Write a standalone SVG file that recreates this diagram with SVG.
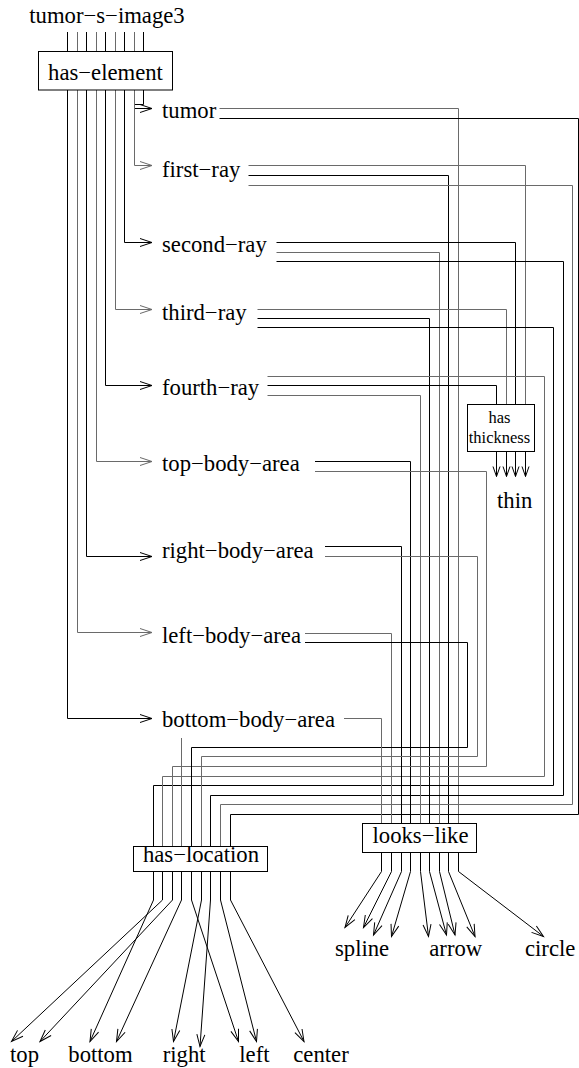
<svg xmlns="http://www.w3.org/2000/svg" width="579" height="1068" viewBox="0 0 579 1068">
<style>
.k{stroke:#000;fill:none;stroke-width:1}
.g{stroke:#6a6a6a;fill:none;stroke-width:1}
.t{font-family:"Liberation Serif","Times New Roman",serif;font-size:22.7px;fill:#000}
.s{font-size:16.5px}
.box{fill:#fff;stroke:#000;stroke-width:1}
</style>
<defs>
<marker id="aK" markerUnits="userSpaceOnUse" orient="auto" refX="0" refY="0" markerWidth="14" markerHeight="10" style="overflow:visible"><path d="M-12,-4 L0,0 L-12,4" fill="none" stroke="#000"/></marker>
<marker id="aG" markerUnits="userSpaceOnUse" orient="auto" refX="0" refY="0" markerWidth="14" markerHeight="10" style="overflow:visible"><path d="M-12,-4 L0,0 L-12,4" fill="none" stroke="#6a6a6a"/></marker>
<marker id="aS" markerUnits="userSpaceOnUse" orient="auto" refX="0" refY="0" markerWidth="12" markerHeight="8" style="overflow:visible"><path d="M-10,-3.5 L0,0 L-10,3.5" fill="none" stroke="#000"/></marker>
</defs>
<g id="connectors">
<path class="k" marker-end="url(#aK)" d="M143.5,32 V104.5 H134.5 V108.5 H152"/>
<path class="g" marker-end="url(#aG)" d="M134.5,32 V165.5 H152"/>
<path class="k" marker-end="url(#aK)" d="M124.5,32 V242.5 H152"/>
<path class="g" marker-end="url(#aG)" d="M115.5,32 V309.5 H152"/>
<path class="k" marker-end="url(#aK)" d="M105.5,32 V385.5 H152"/>
<path class="g" marker-end="url(#aG)" d="M96.5,32 V461.5 H152"/>
<path class="k" marker-end="url(#aK)" d="M86.5,32 V556.5 H152"/>
<path class="g" marker-end="url(#aG)" d="M77.5,32 V632.5 H152"/>
<path class="k" marker-end="url(#aK)" d="M67.5,32 V718.5 H152"/>
<path class="g" d="M219.5,108.5 H458.5 V823.5"/>
<path class="k" d="M219.5,118.5 H578.5 V814.5 H230.5 V846.5"/>
<path class="g" d="M248.5,165.5 H525.5 V404.5"/>
<path class="k" d="M248.5,175.5 H448.5 V823.5"/>
<path class="g" d="M248.5,185.5 H572.5 V804.5 H220.5 V846.5"/>
<path class="k" d="M276.5,242.5 H515.5 V404.5"/>
<path class="g" d="M276.5,252.5 H439.5 V823.5"/>
<path class="k" d="M276.5,261.5 H563.5 V795.5 H210.5 V846.5"/>
<path class="g" d="M257.5,309.5 H506.5 V404.5"/>
<path class="k" d="M257.5,318.5 H429.5 V823.5"/>
<path class="k" d="M257.5,327.5 H553.5 V785.5 H153.5 V846.5"/>
<path class="g" d="M267.5,376.5 H544.5 V776.5 H162.5 V846.5"/>
<path class="k" d="M267.5,385.5 H496.5 V404.5"/>
<path class="g" d="M267.5,395.5 H420.5 V823.5"/>
<path class="k" d="M315,461.5 H410.5 V823.5"/>
<path class="g" d="M315,471.5 H486.5 V766.5 H172.5 V846.5"/>
<path class="k" d="M325,546.5 H401.5 V823.5"/>
<path class="g" d="M325,556.5 H477.5 V756.5 H201.5 V846.5"/>
<path class="g" d="M305,633.5 H391.5 V823.5"/>
<path class="k" d="M305,642.5 H467.5 V747.5 H191.5 V846.5"/>
<path class="g" d="M344,718.5 H381.5 V823.5"/>
<path class="g" d="M181.5,738 V846.5"/>
<path class="k" marker-end="url(#aS)" d="M496.5,451.5 V476.5"/>
<path class="k" marker-end="url(#aS)" d="M506.5,451.5 V476.5"/>
<path class="k" marker-end="url(#aS)" d="M515.5,451.5 V476.5"/>
<path class="k" marker-end="url(#aS)" d="M525.5,451.5 V476.5"/>
<path class="k" marker-end="url(#aK)" d="M381.5,852.5 V871.5 L345,927.5"/>
<path class="k" marker-end="url(#aK)" d="M391.5,852.5 V871.5 L363.5,927.5"/>
<path class="k" marker-end="url(#aK)" d="M401.5,852.5 V871.5 L373.5,935"/>
<path class="k" marker-end="url(#aK)" d="M410.5,852.5 V871.5 L391.5,936.5"/>
<path class="k" marker-end="url(#aK)" d="M420.5,852.5 V871.5 L428.5,936.5"/>
<path class="k" marker-end="url(#aK)" d="M429.5,852.5 V871.5 L446.5,935"/>
<path class="k" marker-end="url(#aK)" d="M439.5,852.5 V871.5 L455,935"/>
<path class="k" marker-end="url(#aK)" d="M448.5,852.5 V871.5 L475,936.5"/>
<path class="k" marker-end="url(#aK)" d="M458.5,852.5 V871.5 L543.5,936.5"/>
<path class="k" marker-end="url(#aK)" d="M153.5,871.5 V900 L90,1041.5"/>
<path class="k" marker-end="url(#aK)" d="M162.5,871.5 V900 L11.5,1041.5"/>
<path class="k" marker-end="url(#aK)" d="M172.5,871.5 V900 L40,1041.5"/>
<path class="k" marker-end="url(#aK)" d="M181.5,871.5 V900 L116.5,1041.5"/>
<path class="k" marker-end="url(#aK)" d="M191.5,871.5 V900 L238.5,1041.5"/>
<path class="k" marker-end="url(#aK)" d="M201.5,871.5 V900 L173.5,1041.5"/>
<path class="k" marker-end="url(#aK)" d="M210.5,871.5 V900 L200,1046.5"/>
<path class="k" marker-end="url(#aK)" d="M220.5,871.5 V900 L256.5,1041.5"/>
<path class="k" marker-end="url(#aK)" d="M230.5,871.5 V900 L304,1041.5"/>
</g>
<g id="n-title"><text class="t" x="107" y="23" text-anchor="middle">tumor−s−image3</text></g>
<g id="n-has-element"><rect class="box" x="38.5" y="51.5" width="134" height="38.5"/><text class="t" x="105.5" y="80" text-anchor="middle">has−element</text></g>
<g id="n-tumor"><text class="t" x="162" y="118">tumor</text></g>
<g id="n-first-ray"><text class="t" x="162" y="177">first−ray</text></g>
<g id="n-second-ray"><text class="t" x="162" y="252">second−ray</text></g>
<g id="n-third-ray"><text class="t" x="162" y="320">third−ray</text></g>
<g id="n-fourth-ray"><text class="t" x="162" y="395">fourth−ray</text></g>
<g id="n-top-body-area"><text class="t" x="162" y="471">top−body−area</text></g>
<g id="n-right-body-area"><text class="t" x="162" y="558">right−body−area</text></g>
<g id="n-left-body-area"><text class="t" x="162" y="643">left−body−area</text></g>
<g id="n-bottom-body-area"><text class="t" x="162" y="727">bottom−body−area</text></g>
<g id="n-has-thickness"><rect class="box" x="467.5" y="404.5" width="67" height="47"/><text class="t s" x="499.5" y="423" text-anchor="middle">has</text><text class="t s" x="499.5" y="443" text-anchor="middle">thickness</text></g>
<g id="n-thin"><text class="t" x="497" y="508">thin</text></g>
<g id="n-looks-like"><rect class="box" x="362.5" y="823.5" width="114" height="29"/><text class="t" x="420.5" y="843" text-anchor="middle">looks−like</text></g>
<g id="n-has-location"><rect class="box" x="133.5" y="846.5" width="134" height="25"/><text class="t" x="201" y="862" text-anchor="middle">has−location</text></g>
<g id="n-spline"><text class="t" x="335" y="956">spline</text></g>
<g id="n-arrow"><text class="t" x="429.3" y="956">arrow</text></g>
<g id="n-circle"><text class="t" x="525" y="956">circle</text></g>
<g id="n-top"><text class="t" x="10" y="1061.5">top</text></g>
<g id="n-bottom"><text class="t" x="68.3" y="1061.5">bottom</text></g>
<g id="n-right"><text class="t" x="162.7" y="1061.5">right</text></g>
<g id="n-left"><text class="t" x="239.3" y="1061.5">left</text></g>
<g id="n-center"><text class="t" x="293.3" y="1061.5">center</text></g>
</svg>
